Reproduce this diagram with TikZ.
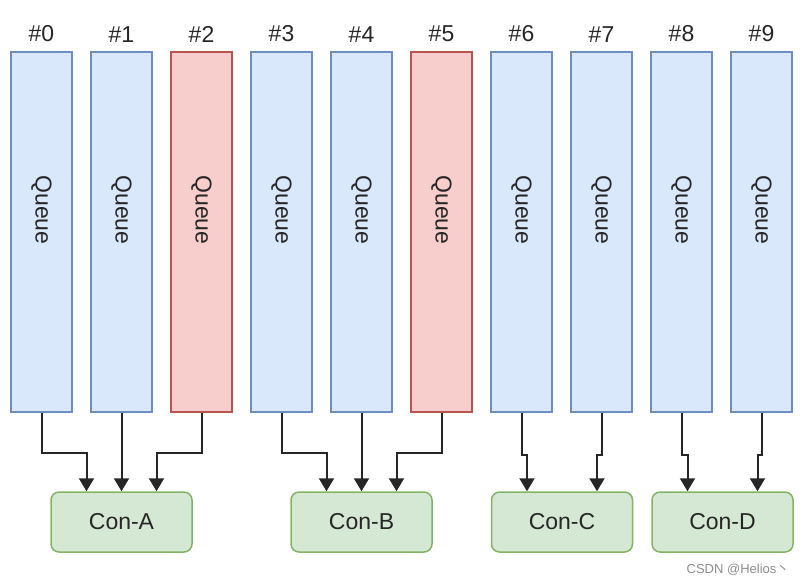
\documentclass[tikz,border=0pt]{standalone}
\usepackage{fontspec}
\setmainfont{Liberation Sans}
\newfontfamily\cjk{Noto Sans CJK SC}
\usetikzlibrary{arrows.meta, positioning}

\definecolor{qblue}{HTML}{DAE8FC}
\definecolor{qblueline}{HTML}{6C8EBF}
\definecolor{qred}{HTML}{F8CECC}
\definecolor{qredline}{HTML}{B85450}
\definecolor{cgreen}{HTML}{D5E8D4}
\definecolor{cgreenline}{HTML}{82B366}

\begin{document}
\begin{tikzpicture}[
            > = {Triangle[width=7.5pt,length=6.5pt]}, % arrow head style
            node distance = 40pt, % distance between queue centres
            font = \fontsize{11.5}{13}\selectfont,
            text = black!85
        ]

        \tikzstyle{queue}=[
            draw = qblueline,
            fill = qblue,
            line width = 0.75pt,
            minimum width = 30.5pt,
            minimum height = 180pt,
            inner sep = 0pt
        ]
        \tikzstyle{busy}=[queue, draw = qredline, fill = qred]
        \tikzstyle{qtext}=[rotate = -90]
        \tikzstyle{consumer}=[
            draw = cgreenline,
            fill = cgreen,
            line width = 0.75pt,
            rounded corners = 4pt,
            minimum width = 70.5pt,
            minimum height = 30pt
        ]
        \tikzstyle{flow}=[->, draw = black!85, line width = 1pt]

        \useasboundingbox (0,0) rectangle (403pt,-292pt);

	\node[queue, label={[yshift=1pt]above:\#0}] (q0) at (20.75pt,-116pt) {};
	\node[queue, label={[yshift=1pt]above:\#1}] (q1) [right of=q0] {};
	\node[busy,  label={[yshift=1pt]above:\#2}] (q2) [right of=q1] {};
	\node[queue, label={[yshift=1pt]above:\#3}] (q3) [right of=q2] {};
	\node[queue, label={[yshift=1pt]above:\#4}] (q4) [right of=q3] {};
	\node[busy,  label={[yshift=1pt]above:\#5}] (q5) [right of=q4] {};
	\node[queue, label={[yshift=1pt]above:\#6}] (q6) [right of=q5] {};
	\node[queue, label={[yshift=1pt]above:\#7}] (q7) [right of=q6] {};
	\node[queue, label={[yshift=1pt]above:\#8}] (q8) [right of=q7] {};
	\node[queue, label={[yshift=1pt]above:\#9}] (q9) [right of=q8] {};

	\node[qtext] (t0) at ([yshift=11pt]q0.center) {Queue};
	\node[qtext] (t1) at ([yshift=11pt]q1.center) {Queue};
	\node[qtext] (t2) at ([yshift=11pt]q2.center) {Queue};
	\node[qtext] (t3) at ([yshift=11pt]q3.center) {Queue};
	\node[qtext] (t4) at ([yshift=11pt]q4.center) {Queue};
	\node[qtext] (t5) at ([yshift=11pt]q5.center) {Queue};
	\node[qtext] (t6) at ([yshift=11pt]q6.center) {Queue};
	\node[qtext] (t7) at ([yshift=11pt]q7.center) {Queue};
	\node[qtext] (t8) at ([yshift=11pt]q8.center) {Queue};
	\node[qtext] (t9) at ([yshift=11pt]q9.center) {Queue};

	\node[consumer] (a) [below=39.25pt of q1] {Con-A};
	\node[consumer] (b) [below=39.25pt of q4] {Con-B};
	\node[consumer] (c) at (281pt,-261pt) {Con-C};
	\node[consumer] (d) at (361.25pt,-261pt) {Con-D};

        \draw[flow] (q0.south) -- ++(0,-20pt) -| ([xshift=-17.5pt]a.north);
        \draw[flow] (q1.south) -- (a.north);
        \draw[flow] (q2.south) -- ++(0,-20pt) -| ([xshift=17.5pt]a.north);
        \draw[flow] (q3.south) -- ++(0,-20pt) -| ([xshift=-17.5pt]b.north);
        \draw[flow] (q4.south) -- (q4.south |- b.north);
        \draw[flow] (q5.south) -- ++(0,-20pt) -| ([xshift=17.5pt]b.north);
        \draw[flow] (q6.south) -- ++(0,-21pt) -| ([xshift=-17.5pt]c.north);
        \draw[flow] (q7.south) -- ++(0,-21pt) -| ([xshift=17.5pt]c.north);
        \draw[flow] (q8.south) -- ++(0,-21pt) -| ([xshift=-17.5pt]d.north);
        \draw[flow] (q9.south) -- ++(0,-21pt) -| ([xshift=17.5pt]d.north);

	\node[text = black!45, font = \fontsize{6.5}{8}\selectfont] (mark) at (369pt,-285pt) {CSDN @Helios{\cjk 丶}};

\end{tikzpicture}
\end{document}
